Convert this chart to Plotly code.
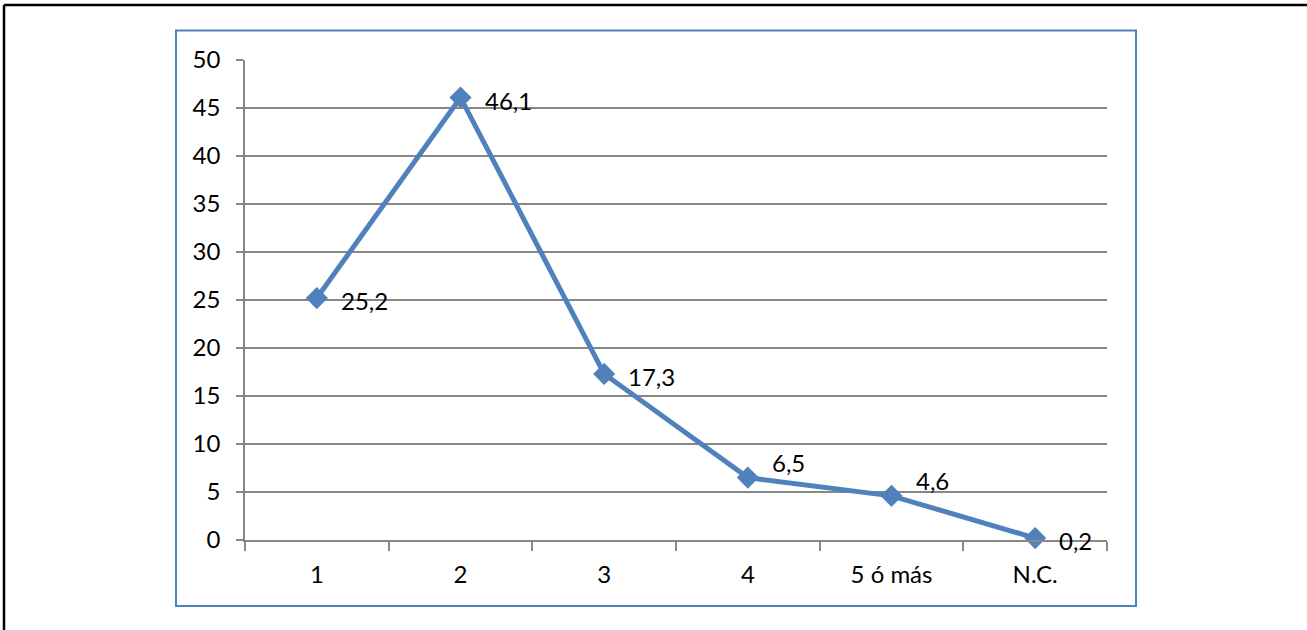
import plotly.graph_objects as go

categories = ["1", "2", "3", "4", "5 ó más", "N.C."]
values = [25.2, 46.1, 17.3, 6.5, 4.6, 0.2]
value_labels = ["25,2", "46,1", "17,3", "6,5", "4,6", "0,2"]

# label vertical nudges (style only)
label_yshift = [-2, -3, -3, 15, 15, -2]

W, H = 1307, 630
L, R, T, B = 245, 200, 60, 90
pw, ph = W - L - R, H - T - B

def px(x):
    return (x - L) / pw

def py(y):
    return (H - B - y) / ph

BLUE = "#4F81BD"
GRID = "#878787"
FONT = "Lato"
FS = 24

fig = go.Figure(
    go.Scatter(
        x=categories,
        y=values,
        mode="lines+markers",
        line=dict(color=BLUE, width=5),
        marker=dict(symbol="diamond", size=17, color=BLUE),
        cliponaxis=False,
    )
)

for i, (v, t, ys) in enumerate(zip(values, value_labels, label_yshift)):
    fig.add_annotation(
        x=i, y=v, text=t, showarrow=False,
        xanchor="left", yanchor="middle",
        xshift=22, yshift=ys,
        font=dict(family=FONT, size=FS, color="black"),
    )

fig.update_layout(
    width=W,
    height=H,
    margin=dict(l=L, r=R, t=T, b=B),
    paper_bgcolor="white",
    plot_bgcolor="white",
    showlegend=False,
    font=dict(family=FONT, size=FS, color="black"),
    xaxis=dict(
        type="category",
        range=[-0.5, 5.5],
        tickson="boundaries",
        showgrid=False,
        showline=True,
        linecolor=GRID,
        linewidth=1.5,
        ticks="outside",
        ticklen=9,
        tickwidth=1.5,
        tickcolor=GRID,
        tickfont=dict(family=FONT, size=FS, color="black"),
        ticklabelstandoff=12,
    ),
    yaxis=dict(
        range=[0, 50],
        dtick=5,
        showgrid=True,
        gridcolor=GRID,
        gridwidth=1.5,
        showline=True,
        linecolor=GRID,
        linewidth=1.5,
        ticks="outside",
        ticklen=7,
        tickwidth=1.5,
        tickcolor=GRID,
        zeroline=False,
        tickfont=dict(family=FONT, size=FS, color="black"),
        ticklabelstandoff=11,
    ),
    shapes=[
        dict(type="rect", xref="paper", yref="paper",
             x0=px(176), x1=px(1136), y0=py(606), y1=py(30.5),
             line=dict(color=BLUE, width=2), layer="below"),
        dict(type="line", xref="paper", yref="paper",
             x0=px(4), x1=px(1310), y0=py(5), y1=py(5),
             line=dict(color="black", width=2.5)),
        dict(type="line", xref="paper", yref="paper",
             x0=px(4), x1=px(4), y0=py(5), y1=py(640),
             line=dict(color="black", width=2.5)),
    ],
)

fig.write_html(
    "out.html",
    config={"displayModeBar": False},
    post_script="document.body.style.margin='0px';document.body.style.overflow='hidden';",
)
